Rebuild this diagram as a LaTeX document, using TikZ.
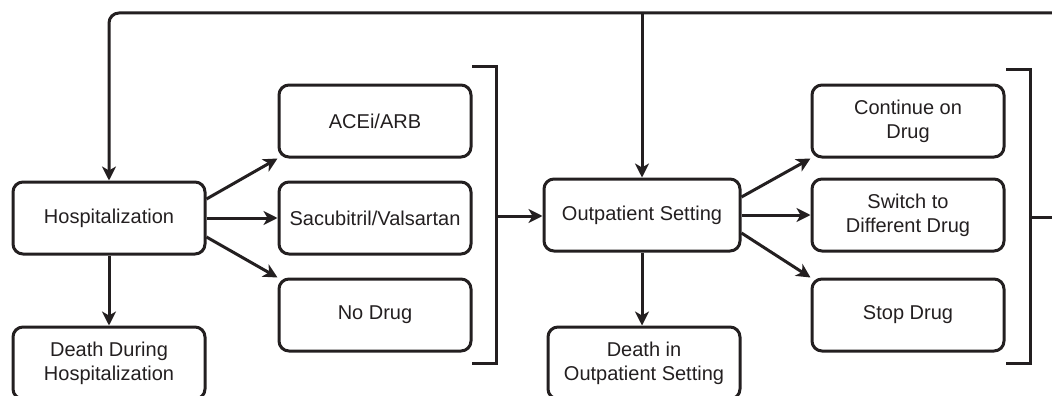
\documentclass[tikz,border=0pt]{standalone}
\usepackage{fontspec}
\setmainfont{Liberation Sans}
\usetikzlibrary{arrows.meta}
\definecolor{ink}{HTML}{231F20}
\begin{document}
\begin{tikzpicture}[x=1pt,y=-1pt,
  box/.style={draw=ink, line width=3pt, rounded corners=10pt, minimum width=192pt, minimum height=72pt,
    align=center, font=\fontsize{20}{24}\selectfont, text=ink, inner sep=2pt},
  conn/.style={draw=ink, line width=3pt},
  arr/.style={conn, -{Stealth[length=14pt,width=14pt,inset=4pt]}}]
\useasboundingbox (0,0) rectangle (1052,396);
\node[box] (hosp) at (109,218) {Hospitalization};
\node[box] (dh) at (109,363) {Death During\\Hospitalization};
\node[box] (ace) at (375,121) {ACEi/ARB};
\node[box] (sac) at (375,218) {Sacubitril/Valsartan};
\node[box] (nod) at (375,315) {No Drug};
\node[box, minimum width=196pt] (out) at (642,215) {Outpatient Setting};
\node[box] (dout) at (644,363) {Death in\\Outpatient Setting};
\node[box] (cont) at (908,121) {Continue on\\Drug};
\node[box] (sw) at (908,215) {Switch to\\Different Drug};
\node[box] (stop) at (908,315) {Stop Drug};
% top loop
\coordinate (tr) at (1060,13);
\coordinate (bt) at (496,67);
\coordinate (bb) at (496,363);
\coordinate (bm) at (496,216);
\coordinate (rt) at (1030,70);
\coordinate (rb) at (1030,363);
\coordinate (rm) at (1030,217);
\coordinate (rr) at (1060,217);
\draw[arr, rounded corners=10pt] (tr) -| (hosp.north);
\draw[arr] (out.north |- tr) -- (out.north);
% hospitalization branches
\draw[arr] ([yshift=19pt]hosp.east) -- (ace.south west);
\draw[arr] (hosp.east) -- (sac.west);
\draw[arr] ([yshift=-19pt]hosp.east) -- (nod.north west);
\draw[arr] (hosp.south) -- (dh.north);
% left bracket
\draw[conn] ([xshift=-24pt]bt) -- (bt) -- (bb) -- ([xshift=-24pt]bb);
\draw[arr] (bm) -- (out.west |- bm);
% outpatient branches
\draw[arr] ([yshift=18pt]out.east) -- (cont.south west);
\draw[arr] (out.east) -- (sw.west);
\draw[arr] ([yshift=-18pt]out.east) -- (stop.north west);
\draw[arr] (out.south) -- (out.south |- dout.north);
% right bracket
\draw[conn] ([xshift=-24pt]rt) -- (rt) -- (rb) -- ([xshift=-24pt]rb);
\draw[conn] (rm) -- (rr);
\end{tikzpicture}
\end{document}
